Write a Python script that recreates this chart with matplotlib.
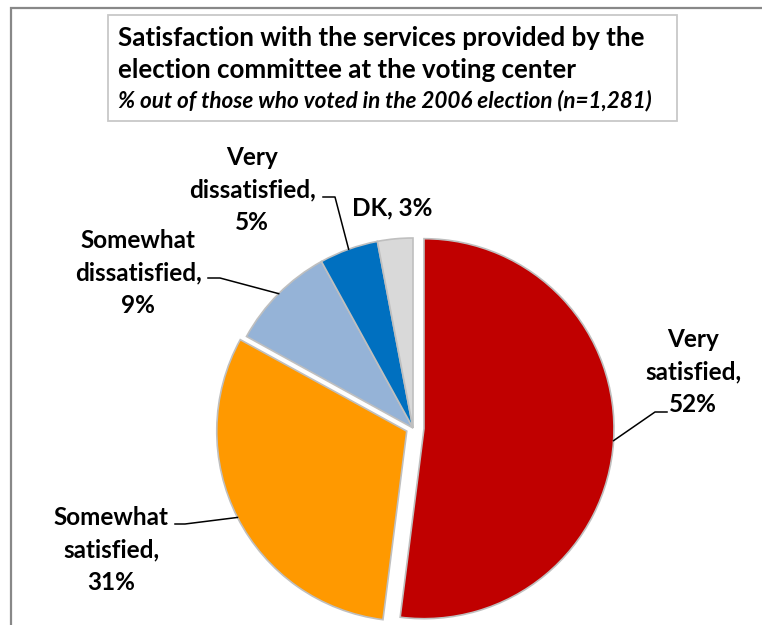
import numpy as np
import matplotlib
matplotlib.use("Agg")
import matplotlib.pyplot as plt
from matplotlib.patches import Rectangle

# survey answers, clockwise from 12 o'clock
categories = ["Very\nsatisfied", "Somewhat\nsatisfied", "Somewhat\ndissatisfied",
              "Very\ndissatisfied", "DK"]
values = [52, 31, 9, 5, 3]
slice_colors = ["#C00000", "#FF9900", "#95B3D7", "#0070C0", "#D9D9D9"]
title_lines = ["Satisfaction with the services provided by the",
               "election committee at the voting center"]
subtitle = "% out of those who voted in the 2006 election (n=1,281)"

W, H = 762, 625
plt.rcParams['font.family'] = ['Lato', 'DejaVu Sans']

fig = plt.figure(figsize=(W / 100, H / 100), dpi=100)
ax = fig.add_axes([0, 0, 1, 1])

# work in pixel-like units, y measured from the top
def Y(y):
    return H - y

cx, cy, r = 413, Y(428), 190
explode = [11, 7, 0, 0, 0]
wedges, _ = ax.pie(values, colors=slice_colors, explode=explode, startangle=90,
                   counterclock=False, radius=r, center=(cx, cy),
                   wedgeprops=dict(edgecolor="#BFBFBF", linewidth=1.2))
ax.set_xlim(0, W)
ax.set_ylim(0, H)
ax.axis('off')

# label centres, leader elbows and leader ends
label_pos = [(693, 372), (111, 550), (138, 273), (252, 190), (392, 208)]
elbows = [(655, 412), (185, 524), (220, 278), (335, 197), None]
ends = [(667, 412), (175, 524), (208, 278), (323, 197), None]

for i, (cat, val) in enumerate(zip(categories, values)):
    sep = "\n" if "\n" in cat else " "
    lx, ly = label_pos[i]
    ax.text(lx, Y(ly), f"{cat},{sep}{val}%", ha='center', va='center',
            fontsize=17.5, fontweight='bold', linespacing=1.5, color='black')
    if elbows[i] is not None:
        w = wedges[i]
        th = np.deg2rad((w.theta1 + w.theta2) / 2)
        ex = w.center[0] + w.r * np.cos(th)
        ey = w.center[1] + w.r * np.sin(th)
        ax.plot([ex, elbows[i][0], ends[i][0]],
                [ey, Y(elbows[i][1]), Y(ends[i][1])],
                color='black', lw=1.1)

# title box
ax.add_patch(Rectangle((108, Y(121)), 569, 106, fill=False,
                       edgecolor='#C8C8C8', lw=1.3))
ax.text(118, Y(38), title_lines[0], ha='left', va='center',
        fontsize=18.6, fontweight='bold')
ax.text(118, Y(70), title_lines[1], ha='left', va='center',
        fontsize=18.6, fontweight='bold')
ax.text(118, Y(101), subtitle, ha='left', va='center',
        fontsize=16.2, fontweight='bold', style='italic')

# chart area frame (left and top edges)
ax.plot([11, 11, W], [0, Y(8), Y(8)], color='#888888', lw=1.6,
        clip_on=False, solid_joinstyle='miter')

fig.savefig("out.png", dpi=100)
